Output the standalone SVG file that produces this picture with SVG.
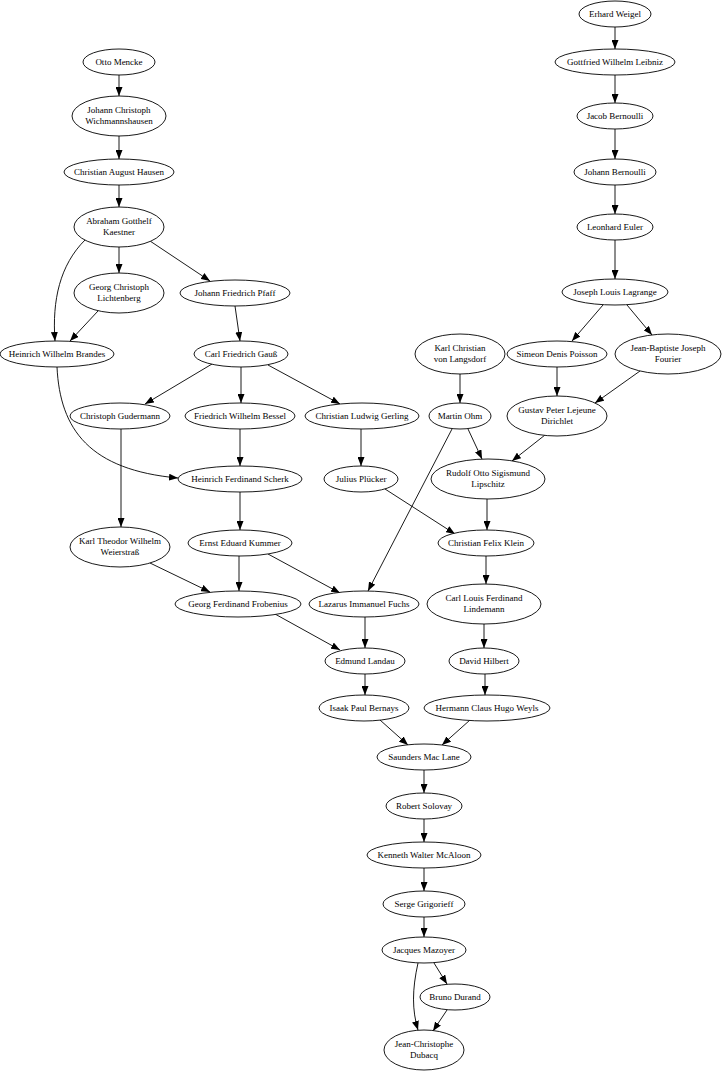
<svg xmlns="http://www.w3.org/2000/svg" width="723" height="1075" viewBox="0 0 723 1075">
<style>
ellipse{fill:#fff;stroke:#000;stroke-width:0.9}
text{font-family:"Liberation Serif",serif;font-size:9px;text-anchor:middle;fill:#000}
#edges path{fill:none;stroke:#000;stroke-width:0.9;marker-end:url(#a)}
</style>
<defs><marker id="a" markerUnits="userSpaceOnUse" markerWidth="9" markerHeight="7" refX="9" refY="3.5" orient="auto"><path d="M0,0L9,3.5L0,7z" fill="#000"/></marker></defs>
<rect width="723" height="1075" fill="#fff"/>
<g id="edges">
<path d="M119,75V96"/><path d="M119,136V159"/><path d="M119,185V207"/><path d="M119,247V273"/>
<path d="M150,241L210,281"/><path d="M85,240C60,265 52,300 55,341"/><path d="M98,311L70,341"/>
<path d="M235,306L240,341"/><path d="M212,364L145,404"/><path d="M241,367V403"/><path d="M268,365L340,404"/>
<path d="M57,367C60,430 90,470 178,478"/><path d="M240,429V466"/><path d="M361,429V466"/><path d="M121,429V527"/>
<path d="M240,492V530"/><path d="M385,489L455,534"/><path d="M150,563L210,592"/><path d="M239,556V591"/>
<path d="M268,554L340,593"/><path d="M452,429L368,591"/><path d="M468,429L482,459"/><path d="M460,374V403"/>
<path d="M275,614L340,650"/><path d="M365,617V648"/><path d="M365,674V695"/><path d="M380,720L408,745"/>
<path d="M470,720L442,745"/><path d="M485,674V695"/><path d="M484,624V648"/><path d="M486,556V584"/>
<path d="M487,499V530"/><path d="M545,435L512,461"/><path d="M557,367V396"/><path d="M640,371L595,403"/>
<path d="M603,305L572,341"/><path d="M627,305L652,335"/>
<path d="M615,27V49"/><path d="M615,75V103"/><path d="M615,129V159"/><path d="M615,185V214"/><path d="M615,240V279"/>
<path d="M424,770V793"/><path d="M424,819V842"/><path d="M424,868V891"/><path d="M424,917V937"/>
<path d="M434,963L447,984"/><path d="M447,1010L433,1031"/><path d="M418,963C412,990 412,1010 418,1030"/>
</g>
<g id="n1"><ellipse cx="119" cy="62" rx="36" ry="13"/><text x="119" y="65">Otto Mencke</text></g>
<g id="n2"><ellipse cx="119" cy="116" rx="47" ry="20"/><text x="119" y="113">Johann Christoph</text><text x="119" y="124">Wichmannshausen</text></g>
<g id="n3"><ellipse cx="119" cy="172" rx="55" ry="13"/><text x="119" y="175">Christian August Hausen</text></g>
<g id="n4"><ellipse cx="119" cy="227" rx="45" ry="20"/><text x="119" y="224">Abraham Gotthelf</text><text x="119" y="235">Kaestner</text></g>
<g id="n5"><ellipse cx="119" cy="293" rx="45" ry="20"/><text x="119" y="290">Georg Christoph</text><text x="119" y="301">Lichtenberg</text></g>
<g id="n6"><ellipse cx="235" cy="293" rx="55" ry="13"/><text x="235" y="296">Johann Friedrich Pfaff</text></g>
<g id="n7"><ellipse cx="57" cy="354" rx="57" ry="13"/><text x="57" y="357">Heinrich Wilhelm Brandes</text></g>
<g id="n8"><ellipse cx="241" cy="354" rx="47" ry="13"/><text x="241" y="357">Carl Friedrich Gauß</text></g>
<g id="n9"><ellipse cx="120" cy="416" rx="50" ry="13"/><text x="120" y="419">Christoph Gudermann</text></g>
<g id="n10"><ellipse cx="240" cy="416" rx="55" ry="13"/><text x="240" y="419">Friedrich Wilhelm Bessel</text></g>
<g id="n11"><ellipse cx="362" cy="416" rx="57" ry="13"/><text x="362" y="419">Christian Ludwig Gerling</text></g>
<g id="n12"><ellipse cx="240" cy="479" rx="62" ry="13"/><text x="240" y="482">Heinrich Ferdinand Scherk</text></g>
<g id="n13"><ellipse cx="361" cy="479" rx="37" ry="13"/><text x="361" y="482">Julius Plücker</text></g>
<g id="n14"><ellipse cx="120" cy="547" rx="50" ry="20"/><text x="120" y="544">Karl Theodor Wilhelm</text><text x="120" y="555">Weierstraß</text></g>
<g id="n15"><ellipse cx="240" cy="543" rx="52" ry="13"/><text x="240" y="546">Ernst Eduard Kummer</text></g>
<g id="n16"><ellipse cx="238" cy="604" rx="63" ry="13"/><text x="238" y="607">Georg Ferdinand Frobenius</text></g>
<g id="n17"><ellipse cx="364" cy="604" rx="55" ry="13"/><text x="364" y="607">Lazarus Immanuel Fuchs</text></g>
<g id="n18"><ellipse cx="365" cy="661" rx="40" ry="13"/><text x="365" y="664">Edmund Landau</text></g>
<g id="n19"><ellipse cx="364" cy="708" rx="45" ry="13"/><text x="364" y="711">Isaak Paul Bernays</text></g>
<g id="n20"><ellipse cx="424" cy="757" rx="47" ry="13"/><text x="424" y="760">Saunders Mac Lane</text></g>
<g id="n21"><ellipse cx="424" cy="806" rx="38" ry="13"/><text x="424" y="809">Robert Solovay</text></g>
<g id="n22"><ellipse cx="424" cy="855" rx="57" ry="13"/><text x="424" y="858">Kenneth Walter McAloon</text></g>
<g id="n23"><ellipse cx="424" cy="904" rx="41" ry="13"/><text x="424" y="907">Serge Grigorieff</text></g>
<g id="n24"><ellipse cx="424" cy="950" rx="42" ry="13"/><text x="424" y="953">Jacques Mazoyer</text></g>
<g id="n25"><ellipse cx="455" cy="997" rx="35" ry="13"/><text x="455" y="1000">Bruno Durand</text></g>
<g id="n26"><ellipse cx="424" cy="1050" rx="40" ry="20"/><text x="424" y="1047">Jean-Christophe</text><text x="424" y="1058">Dubacq</text></g>
<g id="n27"><ellipse cx="615" cy="14" rx="36" ry="13"/><text x="615" y="17">Erhard Weigel</text></g>
<g id="n28"><ellipse cx="615" cy="62" rx="60" ry="13"/><text x="615" y="65">Gottfried Wilhelm Leibniz</text></g>
<g id="n29"><ellipse cx="615" cy="116" rx="38" ry="13"/><text x="615" y="119">Jacob Bernoulli</text></g>
<g id="n30"><ellipse cx="615" cy="172" rx="41" ry="13"/><text x="615" y="175">Johann Bernoulli</text></g>
<g id="n31"><ellipse cx="615" cy="227" rx="38" ry="13"/><text x="615" y="230">Leonhard Euler</text></g>
<g id="n32"><ellipse cx="615" cy="292" rx="53" ry="13"/><text x="615" y="295">Joseph Louis Lagrange</text></g>
<g id="n33"><ellipse cx="557" cy="354" rx="50" ry="13"/><text x="557" y="357">Simeon Denis Poisson</text></g>
<g id="n34"><ellipse cx="668" cy="354" rx="53" ry="20"/><text x="668" y="351">Jean-Baptiste Joseph</text><text x="668" y="362">Fourier</text></g>
<g id="n35"><ellipse cx="460" cy="354" rx="45" ry="20"/><text x="460" y="351">Karl Christian</text><text x="460" y="362">von Langsdorf</text></g>
<g id="n36"><ellipse cx="460" cy="416" rx="31" ry="13"/><text x="460" y="419">Martin Ohm</text></g>
<g id="n37"><ellipse cx="557" cy="416" rx="50" ry="20"/><text x="557" y="413">Gustav Peter Lejeune</text><text x="557" y="424">Dirichlet</text></g>
<g id="n38"><ellipse cx="488" cy="479" rx="57" ry="20"/><text x="488" y="476">Rudolf Otto Sigismund</text><text x="488" y="487">Lipschitz</text></g>
<g id="n39"><ellipse cx="486" cy="543" rx="48" ry="13"/><text x="486" y="546">Christian Felix Klein</text></g>
<g id="n40"><ellipse cx="484" cy="604" rx="57" ry="20"/><text x="484" y="601">Carl Louis Ferdinand</text><text x="484" y="612">Lindemann</text></g>
<g id="n41"><ellipse cx="484" cy="661" rx="35" ry="13"/><text x="484" y="664">David Hilbert</text></g>
<g id="n42"><ellipse cx="487" cy="708" rx="63" ry="13"/><text x="487" y="711">Hermann Claus Hugo Weyls</text></g>
</svg>
